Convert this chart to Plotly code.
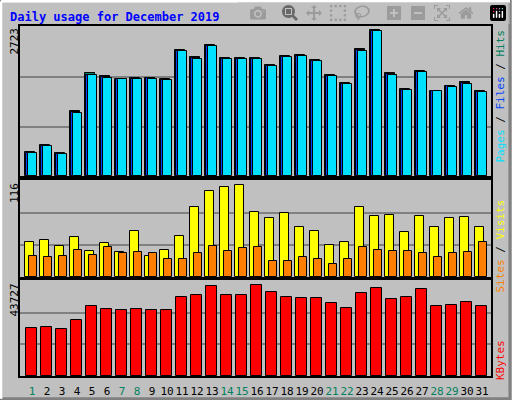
import plotly.graph_objects as go

days = list(range(1, 32))
weekend = [1, 7, 8, 14, 15, 21, 22, 28, 29]

hits = [436, 563, 417, 1198, 1888, 1834, 1779, 1797, 1797, 1779, 2305, 2178, 2396, 2160, 2160, 2160,
        2033, 2196, 2214, 2123, 1851, 1706, 2323, 2668, 1888, 1597, 1924, 1561, 1652, 1724, 1561]
files = [430, 550, 410, 1170, 1860, 1815, 1775, 1780, 1790, 1765, 2290, 2160, 2385, 2150, 2150, 2150,
         2020, 2185, 2200, 2105, 1835, 1690, 2310, 2655, 1870, 1580, 1905, 1555, 1645, 1700, 1545]
pages = [428, 545, 405, 1160, 1850, 1800, 1770, 1770, 1775, 1760, 2285, 2150, 2380, 2140, 2145, 2140,
         2010, 2180, 2195, 2100, 1830, 1680, 2300, 2650, 1860, 1575, 1900, 1550, 1640, 1690, 1540]
visits = [43, 45, 38, 48, 31, 41, 30, 56, 25, 33, 50, 85, 104, 109, 111, 78,
          71, 77, 60, 56, 39, 43, 85, 74, 75, 54, 74, 61, 71, 73, 61]
sites = [25, 24, 25, 33, 27, 36, 29, 30, 29, 22, 22, 29, 38, 32, 35, 37,
         20, 20, 24, 22, 16, 22, 37, 33, 32, 32, 29, 24, 29, 30, 43]
kbytes = [22300, 22750, 21400, 25900, 32300, 30900, 30500, 30900, 30500, 30500, 36400, 37300, 41400,
          37300, 37300, 41900, 38700, 36400, 35900, 35900, 33700, 31400, 38200, 40500, 35500, 36400,
          40000, 32300, 32800, 34100, 32300]

max_hits, max_visits, max_kb = 2723, 116, 43727

FONT = "DejaVu Sans Mono"
line = dict(color="black", width=1)

fig = go.Figure()

def bar(y, color, offset, width, xa, ya):
    fig.add_trace(go.Bar(x=days, y=y, marker=dict(color=color, line=line),
                         offset=offset, width=width, xaxis=xa, yaxis=ya, showlegend=False))

bar(hits, "#00805C", -0.47, 0.67, "x", "y")
bar(files, "#0040FF", -0.4, 0.6, "x", "y")
bar(pages, "#00E0FF", -0.25, 0.55, "x", "y")
bar(visits, "#FFFF00", -0.47, 0.57, "x2", "y2")
bar(sites, "#FF8000", -0.2, 0.53, "x2", "y2")
bar(kbytes, "#FF0000", -0.4, 0.7, "x3", "y3")

xdom = [20/512, 491/512]
ticktext = ["<span style='color:#00805C'>%d</span>" % d if d in weekend else str(d) for d in days]

def xaxis(anchor, show):
    return dict(domain=xdom, range=[0.2, 31.6], anchor=anchor, showgrid=False, zeroline=False,
                showline=True, mirror=True, linecolor="black", linewidth=2,
                tickvals=days if show else [], ticktext=ticktext if show else None,
                ticks="", tickangle=0, ticklabelstandoff=4,
                tickfont=dict(family=FONT, size=11, color="black"))

def yaxis(anchor, dom, mx):
    return dict(domain=dom, range=[0, mx * 1.01], anchor=anchor, showgrid=True,
                gridcolor="#808080", gridwidth=1.5, tickvals=[mx/3, 2*mx/3], showticklabels=False,
                zeroline=False, showline=True, mirror=True, linecolor="black", linewidth=2)

fig.update_layout(
    width=512, height=400, margin=dict(l=0, r=0, t=0, b=0),
    paper_bgcolor="#C0C0C0", plot_bgcolor="#C0C0C0", barmode="overlay", bargap=0,
    xaxis=xaxis("y", False), yaxis=yaxis("x", [0.56, 0.935], max_hits),
    xaxis2=xaxis("y2", False), yaxis2=yaxis("x2", [0.307, 0.55], max_visits),
    xaxis3=xaxis("y3", True), yaxis3=yaxis("x3", [0.06, 0.30], max_kb),
)

# title
fig.add_annotation(text="<b>Daily usage for December 2019</b>", x=8/512, y=1-8/400,
                   xref="paper", yref="paper", xanchor="left", yanchor="top", showarrow=False,
                   font=dict(family=FONT, size=12, color="#0000FF"))

# max labels on left
for label, top in [(str(max_hits), 26), (str(max_visits), 181), (str(max_kb), 282)]:
    fig.add_annotation(text=label, textangle=-90, x=14/512, y=1-top/400, xref="paper", yref="paper",
                       xanchor="center", yanchor="top", showarrow=False,
                       font=dict(family=FONT, size=11, color="black"))

# legends on right
legends = [
    ("<span style='color:#00E0FF'>Pages</span> / <span style='color:#0040FF'>Files</span>"
     " / <span style='color:#00805C'>Hits</span>", 28),
    ("<span style='color:#FF8000'>Sites</span> / <span style='color:#FFFF00'>Visits</span>", 198),
    ("<span style='color:#FF0000'>KBytes</span>", 338),
]
for text, top in legends:
    fig.add_annotation(text=text, textangle=-90, x=500/512, y=1-top/400, xref="paper", yref="paper",
                       xanchor="center", yanchor="top", showarrow=False,
                       font=dict(family=FONT, size=11, color="black"))

# 3D outer frame
fig.add_shape(type="rect", xref="paper", yref="paper", x0=0.002, y0=0.003, x1=0.996, y1=0.997,
              line=dict(color="#808080", width=3))
fig.add_shape(type="line", xref="paper", yref="paper", x0=0.002, y0=0.997, x1=0.996, y1=0.997,
              line=dict(color="white", width=3))
fig.add_shape(type="line", xref="paper", yref="paper", x0=0.002, y0=0.003, x1=0.002, y1=0.997,
              line=dict(color="white", width=3))

fig.write_html("out.html", post_script="document.body.style.margin='0';")
